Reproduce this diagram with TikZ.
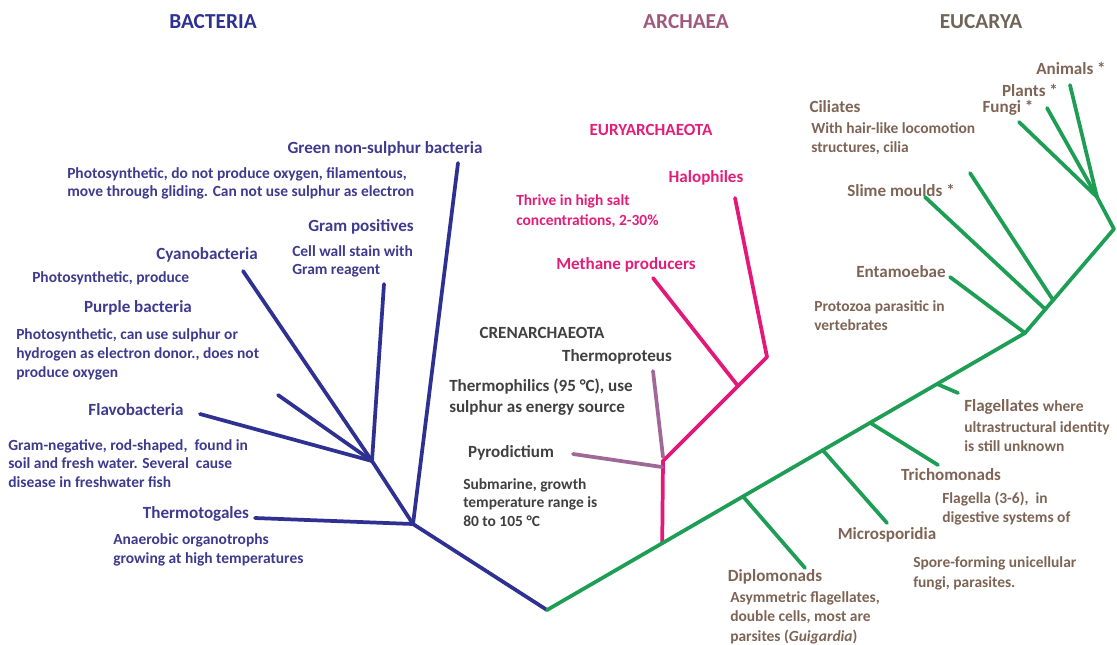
\documentclass[tikz,border=0pt]{standalone}
\usepackage{fontspec}
\setmainfont{Carlito}
\usetikzlibrary{calc}

\definecolor{bacline}{RGB}{46,49,146}
\definecolor{bactext}{RGB}{62,58,142}
\definecolor{arcline}{RGB}{228,24,120}
\definecolor{arctext}{RGB}{226,30,122}
\definecolor{archead}{RGB}{160,88,128}
\definecolor{crentext}{RGB}{64,64,64}
\definecolor{crenline}{RGB}{160,104,150}
\definecolor{eucline}{RGB}{30,158,85}
\definecolor{euctext}{RGB}{125,100,85}
\definecolor{euchead}{RGB}{112,100,88}

\tikzset{
  branch/.style={line width=2.8pt, line cap=round, line join=round},
  head/.style={font=\bfseries\fontsize{16}{18}\selectfont},
  taxon/.style={font=\bfseries\fontsize{12.8}{15}\selectfont, inner sep=0pt},
  note/.style={font=\bfseries\fontsize{11.6}{14.25}\selectfont, align=left,
    anchor=north west, inner sep=0pt},
}

\begin{document}
\begin{tikzpicture}[x=0.75pt, y=-0.75pt]
  \useasboundingbox (0,0) rectangle (1117,644);

  % cabecalhos
  \node[head, text=bacline] (hbac) at (213,22) {BACTERIA};
  \node[head, text=archead] (harc) at (686,22) {ARCHAEA};
  \node[head, text=euchead] (heuc) at (981,22) {EUCARYA};

  % pontos da arvore
  \coordinate (root) at (547,610);
  \coordinate (bJ1) at (413,524);
  \coordinate (bJ2) at (372,461);
  \coordinate (eJ1) at (1025,333);
  \coordinate (eJ2) at (1045,309);
  \coordinate (eJ3) at (1053,300);
  \coordinate (eCorner) at (1114,229);
  \coordinate (eFan) at (1097,197);
  \coordinate (aBase) at ($(root)!0.241!(eJ1)$);
  \coordinate (aJ) at (663,461);
  \coordinate (aJ2) at (738,386);
  \coordinate (aTop) at (767,357);

  % ---- bacteria
  \node[taxon, text=bactext] (gns) at (385,149) {Green non-sulphur bacteria};
  \node[note, text=bactext, font=\bfseries\fontsize{11.6}{13.5}\selectfont] (gnsnote) at (67,167)
    {Photosynthetic, do not produce oxygen, filamentous,\\move through gliding. Can not use sulphur as electron};
  \node[taxon, text=bactext] (gram) at (361,227) {Gram positives};
  \node[note, text=bactext, font=\bfseries\fontsize{11.6}{13.5}\selectfont] (gramnote) at (292,245)
    {Cell wall stain with\\Gram reagent};
  \node[taxon, text=bactext] (cyano) at (207,255) {Cyanobacteria};
  \node[note, text=bactext, anchor=west] (cyanonote) at (32,278) {Photosynthetic, produce};
  \node[taxon, text=bactext] (purple) at (138,308) {Purple bacteria};
  \node[note, text=bactext] (purplenote) at (16,328)
    {Photosynthetic, can use sulphur or\\hydrogen as electron donor., does not\\produce oxygen};
  \node[taxon, text=bactext] (flavo) at (136,410) {Flavobacteria};
  \node[note, text=bactext, font=\bfseries\fontsize{11.6}{13.9}\selectfont] (flavonote) at (8,439)
    {Gram-negative, rod-shaped,\ \ found in\\soil and fresh water. Several\ \ cause\\disease in freshwater fish};
  \node[taxon, text=bactext] (thermo) at (196,514) {Thermotogales};
  \node[note, text=bactext] (thermonote) at (113,533) {Anaerobic organotrophs\\growing at high temperatures};

  \coordinate (gnsTip) at (458,163);
  \coordinate (gramTip) at (384,284);
  \coordinate (cyanoTip) at (243,271);
  \coordinate (purpleTip) at (278,395);
  \coordinate (flavoTip) at (200,414);
  \coordinate (thermoTip) at (255,518);

  \draw[branch, bacline] (root) -- (bJ1) -- (bJ2);   % tronco
  \draw[branch, bacline] (bJ1) -- (gnsTip);          % green non-sulphur
  \draw[branch, bacline] (bJ1) -- (thermoTip);       % thermotogales
  \draw[branch, bacline] (bJ2) -- (gramTip);         % gram positives
  \draw[branch, bacline] (bJ2) -- (cyanoTip);        % cyanobacteria
  \draw[branch, bacline] (bJ2) -- (purpleTip);       % purple bacteria
  \draw[branch, bacline] (bJ2) -- (flavoTip);        % flavobacteria

  % ---- archaea
  \node[taxon, text=arctext] (eury) at (651,130) {EURYARCHAEOTA};
  \node[taxon, text=arctext] (halo) at (706,178) {Halophiles};
  \node[note, text=arctext, font=\bfseries\fontsize{11.6}{15}\selectfont] (halonote) at (516,194)
    {Thrive in high salt\\concentrations, 2-30\%};
  \node[taxon, text=arctext] (meth) at (626,265) {Methane producers};
  \node[taxon, text=crentext] (cren) at (542,333) {CRENARCHAEOTA};
  \node[taxon, text=crentext] (tprot) at (617,357) {Thermoproteus};
  \node[note, text=crentext, font=\bfseries\fontsize{12.8}{15.75}\selectfont] (tprotnote) at (449,379)
    {Thermophilics (95 °C), use\\sulphur as energy source};
  \node[taxon, text=crentext] (pyro) at (511,453) {Pyrodictium};
  \node[note, text=crentext, font=\bfseries\fontsize{11.6}{13.9}\selectfont] (pyronote) at (463,478)
    {Submarine, growth\\temperature range is\\80 to 105 °C};

  \coordinate (haloTip) at (735,198);
  \coordinate (methTip) at (653,278);
  \coordinate (tprotTip) at (653,371);
  \coordinate (tprotEnd) at (663,457);
  \coordinate (pyroTip) at (573,454);
  \coordinate (pyroEnd) at (662,467);

  \draw[branch, arcline] (aBase) -- (aJ) -- (aTop) -- (haloTip); % euryarchaeota
  \draw[branch, arcline] (aJ2) -- (methTip);                     % methane producers
  \draw[branch, crenline] (tprotEnd) -- (tprotTip);              % thermoproteus
  \draw[branch, crenline] (pyroEnd) -- (pyroTip);                % pyrodictium

  % ---- eucarya
  \node[taxon, text=euctext] (anim) at (1071,68) {Animals *};
  \node[taxon, text=euctext] (plant) at (1030,90) {Plants *};
  \node[taxon, text=euctext] (fungi) at (1008,108) {Fungi *};
  \node[taxon, text=euctext] (cili) at (835,107) {Ciliates};
  \node[note, text=euctext] (cilinote) at (811,122) {With hair-like locomotion\\structures, cilia};
  \node[taxon, text=euctext] (slime) at (901,190) {Slime moulds *};
  \node[taxon, text=euctext] (entam) at (901,272) {Entamoebae};
  \node[note, text=euctext] (entamnote) at (814,300) {Protozoa parasitic in\\vertebrates};
  \node[taxon, text=euctext, anchor=west] (flag) at (964,407)
    {Flagellates {\fontsize{11.6}{14}\selectfont where}};
  \node[note, text=euctext] (flagnote) at (964,421) {ultrastructural identity\\is still unknown};
  \node[taxon, text=euctext] (tricho) at (951,475) {Trichomonads};
  \node[note, text=euctext] (trichonote) at (942,492) {Flagella (3-6),\ \ in\\digestive systems of};
  \node[taxon, text=euctext] (micro) at (887,535) {Microsporidia};
  \node[note, text=euctext, font=\bfseries\fontsize{11.6}{15}\selectfont] (micronote) at (913,556)
    {Spore-forming unicellular\\fungi, parasites.};
  \node[taxon, text=euctext] (diplo) at (775,577) {Diplomonads};
  \node[note, text=euctext, font=\bfseries\fontsize{11.6}{14.6}\selectfont] (diplonote) at (730,591)
    {Asymmetric flagellates,\\double cells, most are\\parsites (\textit{Guigardia})};

  \coordinate (animTip) at (1070,85);
  \coordinate (plantTip) at (1047,108);
  \coordinate (fungiTip) at (1019,122);
  \coordinate (slimeTip) at (925,197);
  \coordinate (ciliTip) at (970,173);
  \coordinate (entamTip) at (950,277);
  \coordinate (flagB) at ($(root)!0.816!(eJ1)$);
  \coordinate (flagTip) at (958,393);
  \coordinate (trichoB) at ($(root)!0.676!(eJ1)$);
  \coordinate (trichoTip) at (938,465);
  \coordinate (microB) at ($(root)!0.577!(eJ1)$);
  \coordinate (microTip) at (887,523);
  \coordinate (diploB) at ($(root)!0.410!(eJ1)$);
  \coordinate (diploTip) at (805,568);

  \draw[branch, eucline] (root) -- (eJ1) -- (eCorner) -- (eFan); % tronco principal
  \draw[branch, eucline] (eFan) -- (animTip);    % animais
  \draw[branch, eucline] (eFan) -- (plantTip);   % plantas
  \draw[branch, eucline] (eFan) -- (fungiTip);   % fungos
  \draw[branch, eucline] (eJ3) -- (ciliTip);     % ciliates
  \draw[branch, eucline] (eJ2) -- (slimeTip);    % slime moulds
  \draw[branch, eucline] (eJ1) -- (entamTip);    % entamoebae
  \draw[branch, eucline] (flagB) -- (flagTip);   % flagellates
  \draw[branch, eucline] (trichoB) -- (trichoTip); % trichomonads
  \draw[branch, eucline] (microB) -- (microTip); % microsporidia
  \draw[branch, eucline] (diploB) -- (diploTip); % diplomonads
\end{tikzpicture}
\end{document}
